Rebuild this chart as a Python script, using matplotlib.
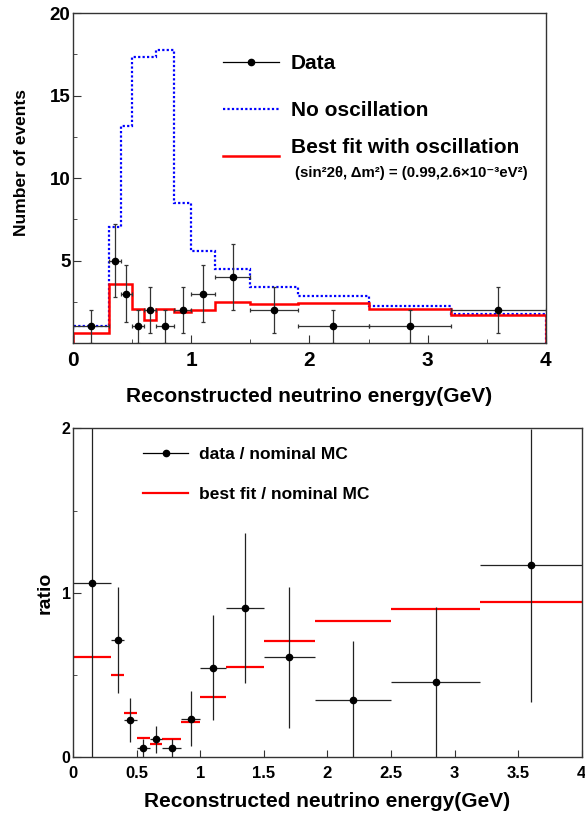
import numpy as np
import matplotlib
matplotlib.use('Agg')
import matplotlib.pyplot as plt
from matplotlib.lines import Line2D
from matplotlib.ticker import MultipleLocator

plt.rcParams['font.family'] = ['Liberation Sans', 'DejaVu Sans']
plt.rcParams['font.weight'] = 'bold'
plt.rcParams['axes.labelweight'] = 'bold'

# Bin edges (GeV)
edges = [0.0, 0.3, 0.4, 0.5, 0.6, 0.7, 0.85, 1.0, 1.2, 1.5, 1.9, 2.5, 3.2, 4.0]

# Expected events per bin
no_osc = [1.0, 7.05, 13.15, 17.35, 17.35, 17.76, 8.47, 5.58, 4.47, 3.37, 2.85, 2.24, 1.76]
best_fit = [0.62, 3.55, 3.55, 2.06, 1.39, 2.06, 1.9, 1.97, 2.46, 2.36, 2.4, 2.04, 1.68]

# Observed events
e_center = [0.15, 0.35, 0.45, 0.55, 0.65, 0.775, 0.925, 1.1, 1.35, 1.7, 2.2, 2.85, 3.6]
n_data = [1, 5, 3, 1, 2, 1, 2, 3, 4, 2, 1, 1, 2]
n_err = [1.0, 2.24, 1.73, 1.0, 1.41, 1.0, 1.41, 1.73, 2.0, 1.41, 1.0, 1.0, 1.41]

# Ratios to nominal MC
ratio_data = [1.058, 0.713, 0.227, 0.055, 0.109, 0.055, 0.235, 0.545, 0.909, 0.608, 0.348, 0.456, 1.167]
ratio_err = [1.058, 0.323, 0.135, 0.058, 0.084, 0.058, 0.167, 0.32, 0.455, 0.43, 0.36, 0.456, 0.83]
ratio_fit = [0.608, 0.50, 0.267, 0.12, 0.08, 0.11, 0.216, 0.365, 0.547, 0.709, 0.829, 0.90, 0.946]

lo = np.array(edges[:-1])
hi = np.array(edges[1:])
xc = np.array(e_center)
xerr = [xc - lo, hi - xc]

fig = plt.figure(figsize=(5.85, 8.19), dpi=100)
ax1 = fig.add_axes([0.1253, 0.5812, 0.8075, 0.4029])
ax2 = fig.add_axes([0.1253, 0.0753, 0.869, 0.4017])

frame = '#333333'

# ---- panel superior: numero de eventos
ax1.stairs(no_osc, edges, color='blue', lw=1.6, linestyle=(0, (1, 1)))
ax1.stairs(best_fit, edges, color='red', lw=1.8)
ax1.errorbar(e_center, n_data, yerr=n_err, xerr=xerr, fmt='o', color='k', ms=4.5,
             elinewidth=0.9, ecolor='#333333', capsize=1.6, capthick=0.9)

ax1.set_xlim(0, 4)
ax1.set_ylim(0, 20)
ax1.set_yticks([5, 10, 15, 20])
ax1.yaxis.set_minor_locator(MultipleLocator(2.5))
ax1.xaxis.set_major_locator(MultipleLocator(1))
ax1.xaxis.set_minor_locator(MultipleLocator(0.5))
ax1.tick_params(axis='x', which='major', direction='in', length=6, labelsize=15, pad=6, color=frame)
ax1.tick_params(axis='x', which='minor', direction='in', length=3, color=frame)
ax1.tick_params(axis='y', which='major', direction='in', length=6, labelsize=13.5, pad=2, color=frame)
ax1.tick_params(axis='y', which='minor', direction='in', length=3, color=frame)
ax1.set_xlabel('Reconstructed neutrino energy(GeV)', fontsize=15, va='top')
ax1.set_ylabel('Number of events', fontsize=12.5)
ax1.xaxis.set_label_coords(0.5, -0.132)
ax1.yaxis.set_label_coords(-0.094, 0.546)

h_data = Line2D([], [], color='k', lw=0.9, marker='o', ms=4.5)
h_noosc = Line2D([], [], color='blue', lw=1.6, linestyle=(0, (1, 1)))
h_fit = Line2D([], [], color='red', lw=1.8)
leg1 = ax1.legend([h_data, h_noosc, h_fit],
                  ['Data', 'No oscillation', 'Best fit with oscillation'],
                  loc='upper left', bbox_to_anchor=(0.317, 0.875), frameon=False,
                  fontsize=15, handlelength=2.7, handletextpad=0.55,
                  labelspacing=1.34, borderpad=0, borderaxespad=0)
# subir un poco el texto del ajuste para dejar sitio a los parametros
leg1.get_texts()[2].set_y(10)
ax1.text(0.47, 0.516, '(sin²2θ, Δm²) = (0.99,2.6×10⁻³eV²)', transform=ax1.transAxes,
         fontsize=10.8, va='center', ha='left')

# ---- panel inferior: cocientes
ax2.hlines(ratio_fit, lo, hi, color='red', lw=1.6)
ax2.errorbar(e_center, ratio_data, yerr=ratio_err, xerr=xerr, fmt='o', color='k', ms=4.5,
             elinewidth=0.9, ecolor='#222222', capsize=0)

ax2.set_xlim(0, 4)
ax2.set_ylim(0, 2)
ax2.set_yticks([0, 1, 2])
ax2.yaxis.set_minor_locator(MultipleLocator(0.5))
ax2.xaxis.set_major_locator(MultipleLocator(0.5))
ax2.xaxis.set_major_formatter(plt.FuncFormatter(lambda v, p: f'{v:g}'))
ax2.tick_params(axis='x', which='major', direction='in', length=5, labelsize=12, pad=6, color=frame)
ax2.tick_params(axis='y', which='major', direction='in', length=6, labelsize=11.5, pad=2, color=frame)
ax2.tick_params(axis='y', which='minor', direction='in', length=3, color=frame)
ax2.set_xlabel('Reconstructed neutrino energy(GeV)', fontsize=15, va='top')
ax2.set_ylabel('ratio', fontsize=14)
ax2.xaxis.set_label_coords(0.5, -0.105)
ax2.yaxis.set_label_coords(-0.038, 0.5)

h_rdata = Line2D([], [], color='k', lw=0.9, marker='o', ms=4.5)
h_rfit = Line2D([], [], color='red', lw=1.6)
ax2.legend([h_rdata, h_rfit], ['data / nominal MC', 'best fit / nominal MC'],
           loc='upper left', bbox_to_anchor=(0.137, 0.945), frameon=False,
           fontsize=12.5, handlelength=2.6, handletextpad=0.6,
           labelspacing=1.44, borderpad=0, borderaxespad=0)

for ax in (ax1, ax2):
    for s in ax.spines.values():
        s.set_color(frame)
        s.set_linewidth(1.0)

fig.savefig('out.png', dpi=100)
